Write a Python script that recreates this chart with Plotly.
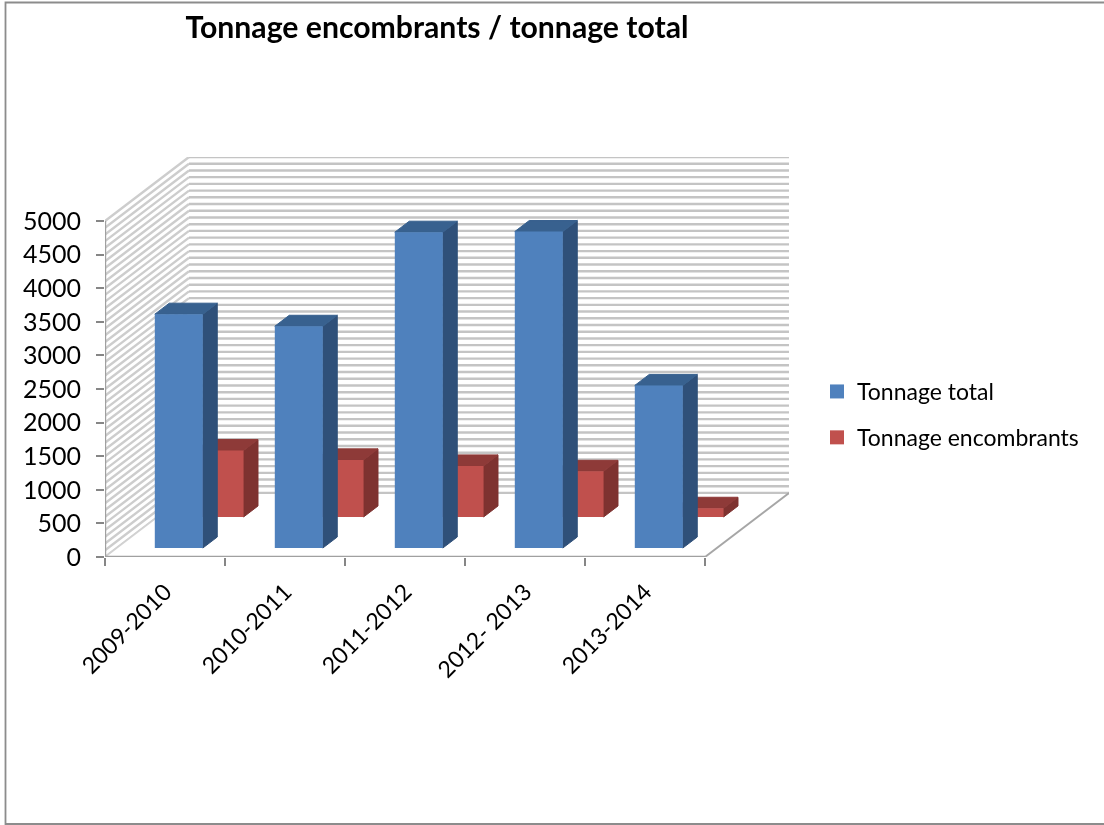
import plotly.graph_objects as go

# ---- data ----
categories = ["2009-2010", "2010-2011", "2011-2012", "2012- 2013", "2013-2014"]
tonnage_total = [3480, 3300, 4700, 4710, 2420]
tonnage_encombrants = [990, 850, 760, 680, 130]
y_ticks = [0, 500, 1000, 1500, 2000, 2500, 3000, 3500, 4000, 4500, 5000]
title_text = "Tonnage encombrants / tonnage total"

# ---- oblique projection of the 3D chart (depth d in 0..1) ----
DX, DY = 0.7, 952.4   # how far the back wall is shifted, in axis units
N = len(categories)
YMAX = 5000
def P(x, v, d):
    return x + d * DX, v + d * DY

def polys(quads):
    xs, ys = [], []
    for q in quads:
        pts = [P(*p) for p in q]
        pts.append(pts[0])
        xs += [p[0] for p in pts] + [None]
        ys += [p[1] for p in pts] + [None]
    return xs, ys

def segs(pairs):
    xs, ys = [], []
    for a, b in pairs:
        pa, pb = P(*a), P(*b)
        xs += [pa[0], pb[0], None]
        ys += [pa[1], pb[1], None]
    return xs, ys

fig = go.Figure()

def add_fill(quads, color, edge=0):
    x, y = polys(quads)
    fig.add_trace(go.Scatter(x=x, y=y, mode="lines", fill="toself", fillcolor=color,
                             line=dict(width=edge, color=color), hoverinfo="skip",
                             showlegend=False, cliponaxis=False))

def add_line(pairs, color, width):
    x, y = segs(pairs)
    fig.add_trace(go.Scatter(x=x, y=y, mode="lines", line=dict(color=color, width=width),
                             hoverinfo="skip", showlegend=False, cliponaxis=False))

# walls: a gridline every 100 units
grid = list(range(0, YMAX + 1, 100))
add_line([((0, g, 0), (0, g, 1)) for g in grid], "#CDCDCD", 2.4)
add_line([((0, g, 1), (N, g, 1)) for g in grid], "#C4C4C4", 2.4)
# floor on top of the lowest lines
add_fill([[(0, 0, 0), (N, 0, 0), (N, 0, 1), (0, 0, 1)]], "#FFFFFF")
add_line([((0, 0, 1), (N, 0, 1))], "#C4C4C4", 2)
add_line([((0, 0, 0), (0, 0, 1))], "#D2D2D2", 1.5)
add_line([((N, 0, 0), (N, 0, 1))], "#A6A6A6", 2)
add_line([((0, 0, 0), (N, 0, 0)), ((0, 0, 0), (0, YMAX, 0))], "#A0A0A0", 2.4)

def bars(values, d0, d1, front, top, side):
    left, right = 0.317, 0.717
    fr, tp, sd = [], [], []
    for i, v in enumerate(values):
        l, r = i + left, i + right
        fr.append([(l, 0, d0), (r, 0, d0), (r, v, d0), (l, v, d0)])
        tp.append([(l, v, d0), (r, v, d0), (r, v, d1), (l, v, d1)])
        sd.append([(r, 0, d0), (r, 0, d1), (r, v, d1), (r, v, d0)])
    # side and top first, slightly outlined, so no seam shows what lies behind
    add_fill(sd, side, 1)
    add_fill(tp, top, 1)
    add_fill(fr, front)

bars(tonnage_encombrants, 0.625, 0.797, "#C0504D", "#8E3A38", "#7E3230")
bars(tonnage_total, 0.14, 0.312, "#4F81BD", "#38618F", "#2F5079")

# legend entries
for name, color in (("Tonnage total", "#4F81BD"), ("Tonnage encombrants", "#C0504D")):
    fig.add_trace(go.Scatter(x=[None], y=[None], mode="markers", name=name, legendgroup=name,
                             marker=dict(symbol="square", size=14, color=color)))

W, H = 1104, 825
FONT = "Lato"
fig.update_layout(
    width=W, height=H, autosize=False,
    margin=dict(l=0, r=0, t=0, b=0, autoexpand=False),
    paper_bgcolor="white", plot_bgcolor="white",
    font=dict(family=FONT, color="#000000", size=23),
    title=dict(text="<b>" + title_text + "</b>", x=437 / W, xanchor="center", y=1 - 27 / H,
               yanchor="middle", font=dict(family=FONT, size=30.2, color="#000000")),
    xaxis=dict(domain=[105 / W, 789 / W], range=[0, N + DX], showgrid=False, zeroline=False,
               tickmode="array", tickvals=[i + 0.5 for i in range(N)], ticktext=categories,
               tickangle=-45, ticks="", showline=False, ticklabelstandoff=16,
               tickfont=dict(size=23),
               minor=dict(tickmode="array", tickvals=list(range(N + 1)), ticks="outside",
                          ticklen=8, tickcolor="#868686", tickwidth=1.5, showgrid=False)),
    yaxis=dict(domain=[(H - 557) / H, (H - 157) / H], range=[0, YMAX + DY], showgrid=False,
               zeroline=False, tickmode="array", tickvals=y_ticks, ticks="outside", ticklen=8,
               ticklabelstandoff=10,
               tickcolor="#868686", tickwidth=1.5, showline=False, tickfont=dict(size=25)),
    legend=dict(x=817 / W, y=1 - 370 / H, xanchor="left", yanchor="top", tracegroupgap=13,
                font=dict(size=23), bgcolor="rgba(0,0,0,0)", itemwidth=30),
    shapes=[dict(type="path", xref="paper", yref="paper",
                 path=f"M 1 {1-2.5/H} L {5.5/W} {1-2.5/H} L {5.5/W} {1-824/H} L 1 {1-824/H}",
                 line=dict(color="#8C8C8C", width=1.8))],
)

fig.write_html("out.html", config=dict(displayModeBar=False),
               post_script="document.body.style.margin='0';document.documentElement.style.overflow='hidden';"
                           "document.querySelectorAll('.cartesianlayer').forEach(function(e){e.style.filter='blur(0.6px)';});")
